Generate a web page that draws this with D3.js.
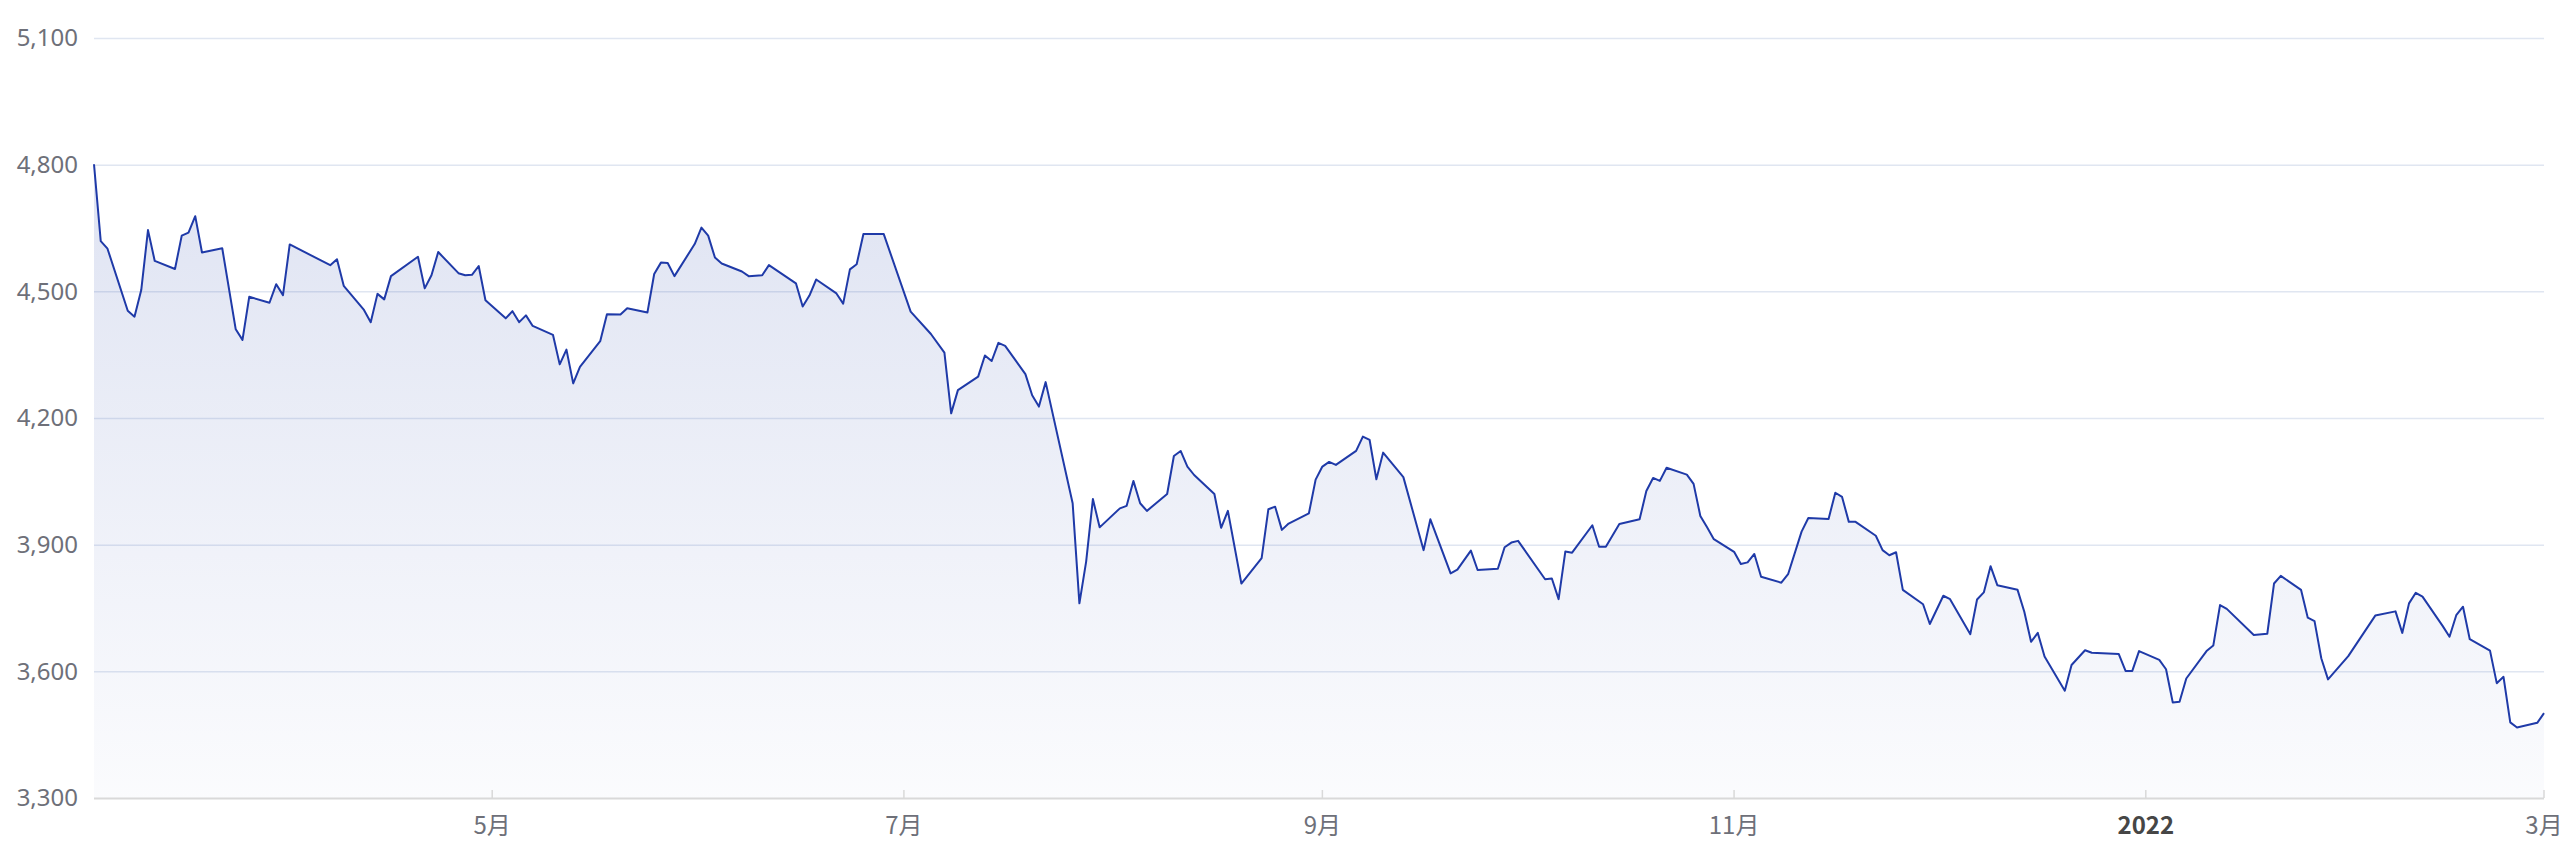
<!DOCTYPE html>
<html><head><meta charset="utf-8">
<script src="https://cdn.jsdelivr.net/npm/d3@7"></script>
<style>html,body{margin:0;padding:0;background:#fff;} svg{display:block}</style>
</head><body><svg id="chart" width="2570" height="844"></svg>
<script>
const dates = [
"2021-03-03","2021-03-04","2021-03-05","2021-03-08","2021-03-09","2021-03-10","2021-03-11","2021-03-12","2021-03-15","2021-03-16","2021-03-17","2021-03-18","2021-03-19","2021-03-22","2021-03-24","2021-03-25","2021-03-26","2021-03-29","2021-03-30","2021-03-31",
"2021-04-01","2021-04-07","2021-04-08","2021-04-09","2021-04-12","2021-04-13","2021-04-14","2021-04-15","2021-04-16","2021-04-20","2021-04-21","2021-04-22","2021-04-23","2021-04-26","2021-04-27","2021-04-28","2021-04-29","2021-04-30",
"2021-05-03","2021-05-04","2021-05-05","2021-05-06","2021-05-07","2021-05-10","2021-05-11","2021-05-12","2021-05-13","2021-05-14","2021-05-17","2021-05-18","2021-05-20","2021-05-21","2021-05-24","2021-05-25","2021-05-26","2021-05-27","2021-05-28","2021-05-31",
"2021-06-01","2021-06-02","2021-06-03","2021-06-04","2021-06-07","2021-06-08","2021-06-10","2021-06-11","2021-06-15","2021-06-16","2021-06-17","2021-06-18","2021-06-21","2021-06-22","2021-06-23","2021-06-24","2021-06-25","2021-06-28",
"2021-07-02","2021-07-05","2021-07-07","2021-07-08","2021-07-09","2021-07-12","2021-07-13","2021-07-14","2021-07-15","2021-07-16","2021-07-19","2021-07-20","2021-07-21","2021-07-22","2021-07-26","2021-07-27","2021-07-28","2021-07-29","2021-07-30",
"2021-08-02","2021-08-03","2021-08-04","2021-08-05","2021-08-06","2021-08-09","2021-08-10","2021-08-11","2021-08-12","2021-08-13","2021-08-16","2021-08-17","2021-08-18","2021-08-20","2021-08-23","2021-08-24","2021-08-25","2021-08-26","2021-08-27","2021-08-30","2021-08-31",
"2021-09-01","2021-09-02","2021-09-03","2021-09-06","2021-09-07","2021-09-08","2021-09-09","2021-09-10","2021-09-13","2021-09-16","2021-09-17","2021-09-20","2021-09-21","2021-09-23","2021-09-24","2021-09-27","2021-09-28","2021-09-29","2021-09-30",
"2021-10-04","2021-10-05","2021-10-06","2021-10-07","2021-10-08","2021-10-11","2021-10-12","2021-10-13","2021-10-15","2021-10-18","2021-10-19","2021-10-20","2021-10-21","2021-10-22","2021-10-25","2021-10-26","2021-10-27","2021-10-28","2021-10-29",
"2021-11-01","2021-11-02","2021-11-03","2021-11-04","2021-11-05","2021-11-08","2021-11-09","2021-11-11","2021-11-12","2021-11-15","2021-11-16","2021-11-17","2021-11-18","2021-11-19","2021-11-22","2021-11-23","2021-11-24","2021-11-25","2021-11-26","2021-11-29","2021-11-30",
"2021-12-02","2021-12-03","2021-12-06","2021-12-07","2021-12-08","2021-12-09","2021-12-10","2021-12-13","2021-12-14","2021-12-15","2021-12-16","2021-12-17","2021-12-20","2021-12-21","2021-12-23","2021-12-24","2021-12-28","2021-12-29","2021-12-30","2021-12-31",
"2022-01-03","2022-01-04","2022-01-05","2022-01-06","2022-01-07","2022-01-10","2022-01-11","2022-01-12","2022-01-13","2022-01-17","2022-01-19","2022-01-20","2022-01-21","2022-01-24","2022-01-25","2022-01-26","2022-01-27","2022-01-28","2022-01-31",
"2022-02-04","2022-02-07","2022-02-08","2022-02-09","2022-02-10","2022-02-11","2022-02-14","2022-02-15","2022-02-16","2022-02-17","2022-02-18","2022-02-21","2022-02-22","2022-02-23","2022-02-24","2022-02-25","2022-02-28","2022-03-01"
];
const values = [
4801,4619,4601,4454,4440,4503,4645,4572,4553,4632,4639,4678,4592,4602,4410,4385,4487,4473,4517,4491,
4611,4562,4576,4513,4456,4427,4494,4481,4536,4582,4507,4538,4593,4543,4538,4539,4560,4479,
4436,4453,4427,4443,4418,4397,4327,4362,4282,4321,4382,4446,4445,4460,4450,4541,4568,4567,4536,4612,
4651,4632,4580,4566,4547,4536,4538,4562,4519,4464,4490,4528,4495,4471,4552,4564,4636,4636,
4452,4399,4355,4211,4266,4298,4348,4335,4378,4371,4304,4254,4227,4285,3998,3761,3860,4008,3941,
3986,3992,4051,3998,3980,4020,4110,4122,4085,4065,4020,3940,3980,3808,3868,3984,3990,3935,3950,3974,4054,
4085,4096,4089,4122,4156,4148,4055,4118,4060,3887,3960,3832,3841,3886,3840,3843,3894,3905,3909,
3818,3820,3771,3884,3881,3946,3895,3895,3949,3960,4027,4058,4051,4082,4066,4044,3968,3941,3913,
3883,3854,3858,3878,3824,3810,3830,3931,3963,3961,4023,4013,3954,3954,3921,3887,3875,3882,3793,3759,3712,
3779,3771,3688,3770,3787,3849,3804,3793,3741,3670,3691,3635,3554,3615,3650,3644,3641,3601,3601,3648,
3627,3605,3526,3528,3583,3648,3661,3757,3748,3686,3689,3808,3826,3793,3727,3719,3631,3581,3636,
3732,3742,3691,3761,3786,3777,3707,3682,3733,3753,3676,3649,3572,3587,3479,3467,3478,3501
];
const yTicks = [3300, 3600, 3900, 4200, 4500, 4800, 5100];
const xTickDates = ["2021-05-01","2021-07-01","2021-09-01","2021-11-01","2022-01-01","2022-03-01"];
const xTickLabels = ["5月","7月","9月","11月","2022","3月"];
const xTickBold = [false,false,false,false,true,false];

const W = 2570, H = 844;
const M = {left: 94, right: 2544, top: 38, bottom: 798};
const parse = d3.timeParse("%Y-%m-%d");
const data = dates.map((d, i) => ({date: parse(d), value: values[i]}));

const svg = d3.select("#chart");
const x = d3.scaleTime().domain(d3.extent(data, d => d.date)).range([M.left, M.right]);
const y = d3.scaleLinear().domain([3300, 5100]).range([M.bottom, M.top]);

// gradient
const defs = svg.append("defs");
const grad = defs.append("linearGradient").attr("id", "areaGrad")
  .attr("gradientUnits", "userSpaceOnUse")
  .attr("x1", 0).attr("x2", 0)
  .attr("y1", y(d3.max(values))).attr("y2", M.bottom);
grad.append("stop").attr("offset", 0).attr("stop-color", "rgb(40,70,170)").attr("stop-opacity", 0.15);
grad.append("stop").attr("offset", 1).attr("stop-color", "rgb(40,70,170)").attr("stop-opacity", 0.02);

// grid
svg.append("g").selectAll("line").data(yTicks.filter(t => t !== 3300)).join("line")
  .attr("x1", M.left).attr("x2", M.right)
  .attr("y1", d => y(d) + 0.5).attr("y2", d => y(d) + 0.5)
  .attr("stroke", "#e0e6f1").attr("stroke-width", 1.5);

// area + line
const area = d3.area().x(d => x(d.date)).y0(y(3300)).y1(d => y(d.value));
const line = d3.line().x(d => x(d.date)).y(d => y(d.value));
svg.append("path").datum(data).attr("d", area).attr("fill", "url(#areaGrad)");
svg.append("path").datum(data).attr("d", line).attr("fill", "none")
  .attr("stroke", "#1f3aa8").attr("stroke-width", 2).attr("stroke-linejoin", "round");

// y labels
svg.append("g").selectAll("text").data(yTicks).join("text")
  .attr("x", 78).attr("y", d => y(d)).attr("dy", "0.35em")
  .attr("text-anchor", "end")
  .attr("font-family", "'Noto Sans', 'Open Sans', sans-serif")
  .attr("font-size", 24).attr("fill", "#6e7079")
  .text(d => d3.format(",")(d));

// x axis line
svg.append("line").attr("x1", M.left).attr("x2", M.right)
  .attr("y1", M.bottom + 0.5).attr("y2", M.bottom + 0.5)
  .attr("stroke", "#d9d9d9").attr("stroke-width", 2);

const xt = xTickDates.map((d, i) => ({date: parse(d), label: xTickLabels[i], bold: xTickBold[i]}));
svg.append("g").selectAll("line").data(xt).join("line")
  .attr("x1", d => x(d.date)).attr("x2", d => x(d.date))
  .attr("y1", M.bottom - 8).attr("y2", M.bottom)
  .attr("stroke", "#d9d9d9").attr("stroke-width", 1.5);
svg.append("g").selectAll("text").data(xt).join("text")
  .attr("x", d => x(d.date)).attr("y", 826).attr("dy", "0.35em")
  .attr("text-anchor", "middle")
  .attr("font-family", "'Noto Sans CJK SC', 'Noto Sans', sans-serif")
  .attr("font-size", 24)
  .attr("font-weight", d => d.bold ? "bold" : "normal")
  .attr("fill", d => d.bold ? "#464646" : "#6e7079")
  .text(d => d.label);
</script>
</body></html>
